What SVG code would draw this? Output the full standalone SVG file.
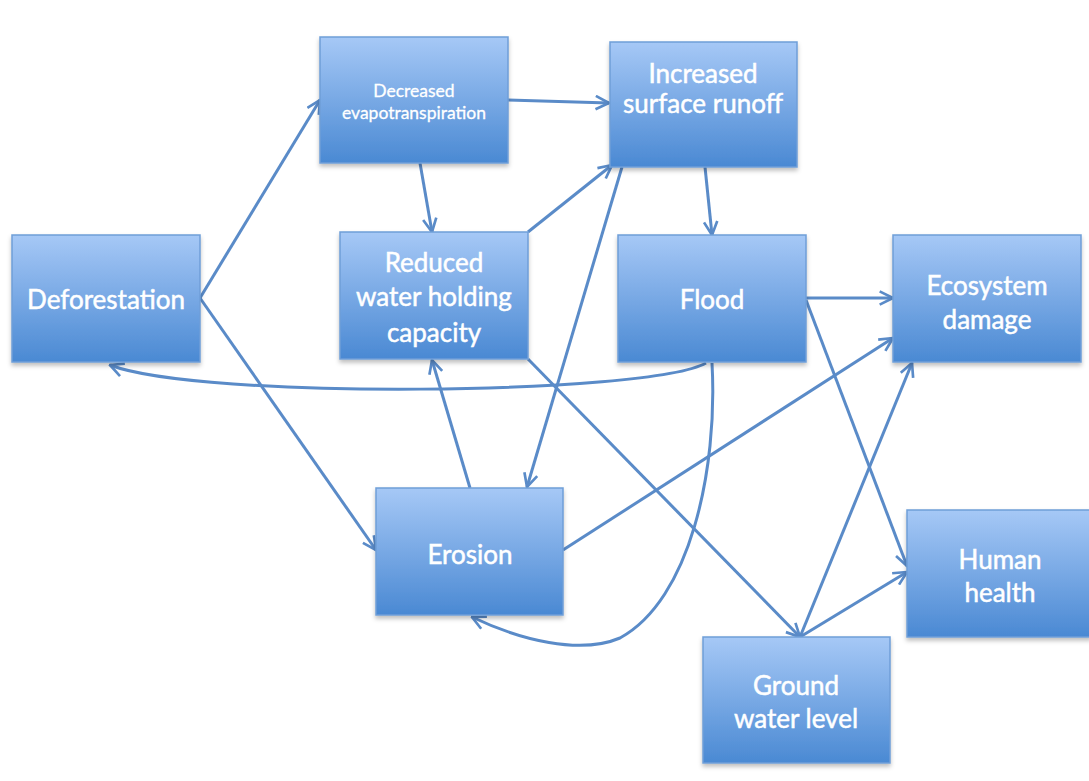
<svg xmlns="http://www.w3.org/2000/svg" width="1089" height="781" viewBox="0 0 1089 781">
<defs>
<linearGradient id="g" x1="0" y1="0" x2="0" y2="1">
<stop offset="0" stop-color="#a6c8f6"/>
<stop offset="1" stop-color="#4a89d3"/>
</linearGradient>
<filter id="sh" x="-10%" y="-10%" width="120%" height="130%">
<feDropShadow dx="0" dy="3" stdDeviation="2" flood-color="#000" flood-opacity="0.25"/>
</filter>
<marker id="ah" viewBox="0 0 12 12" refX="11" refY="6" markerWidth="16" markerHeight="16" markerUnits="userSpaceOnUse" orient="auto">
<path d="M1,1 L11,6 L1,11" fill="none" stroke="#5a8bc8" stroke-width="2"/>
</marker>
</defs>
<style>
.box{fill:url(#g);stroke:#6f9ed8;stroke-width:1.5;filter:url(#sh)}
.t{font-family:Lato,"Open Sans","Liberation Sans",sans-serif;fill:#fff;stroke:#fff;stroke-width:0.5;text-anchor:middle;font-size:26px}
.s{font-size:17.5px;stroke-width:0.3}
.c{fill:none;stroke:#5a8bc8;stroke-width:3;marker-end:url(#ah)}
</style>
<rect width="1089" height="781" fill="#fff"/>
<g id="connectors">
<path class="c" d="M200,298 L320,100"/>
<path class="c" d="M200,298 L376,550"/>
<path class="c" d="M508,100 L609,103"/>
<path class="c" d="M420,163 L432,232"/>
<path class="c" d="M528,232 L612,165"/>
<path class="c" d="M622,167 L527,487"/>
<path class="c" d="M705,167 L712,235"/>
<path class="c" d="M470,488 L432,360"/>
<path class="c" d="M706,363 C650,395 200,400 110,365"/>
<path class="c" d="M712,363 C718,470 690,600 620,638 C580,655 520,640 472,617"/>
<path class="c" d="M806,298 L893,298"/>
<path class="c" d="M806,300 L907,566"/>
<path class="c" d="M563,550 L893,338"/>
<path class="c" d="M528,359 L800,637"/>
<path class="c" d="M800,637 L912,363"/>
<path class="c" d="M800,637 L907,572"/>
</g>
<g id="deforestation">
<rect class="box" x="12" y="235" width="188" height="127"/>
<text class="t" x="106" y="309">Deforestation</text>
</g>
<g id="decreased-evapotranspiration">
<rect class="box" x="320" y="37" width="188" height="126"/>
<text class="t s" x="414" y="97">Decreased</text>
<text class="t s" x="414" y="119">evapotranspiration</text>
</g>
<g id="increased-surface-runoff">
<rect class="box" x="610" y="42" width="187" height="125"/>
<text class="t" x="703" y="83">Increased</text>
<text class="t" x="703" y="113">surface runoff</text>
</g>
<g id="reduced-water-holding-capacity">
<rect class="box" x="340" y="232" width="188" height="127"/>
<text class="t" x="434" y="272">Reduced</text>
<text class="t" x="434" y="306">water holding</text>
<text class="t" x="434" y="342">capacity</text>
</g>
<g id="flood">
<rect class="box" x="618" y="235" width="188" height="127"/>
<text class="t" x="712" y="309">Flood</text>
</g>
<g id="ecosystem-damage">
<rect class="box" x="893" y="235" width="188" height="127"/>
<text class="t" x="987" y="295">Ecosystem</text>
<text class="t" x="987" y="329">damage</text>
</g>
<g id="erosion">
<rect class="box" x="376" y="488" width="187" height="127"/>
<text class="t" x="470" y="564">Erosion</text>
</g>
<g id="human-health">
<rect class="box" x="907" y="510" width="184" height="127"/>
<text class="t" x="1000" y="569">Human</text>
<text class="t" x="1000" y="602">health</text>
</g>
<g id="ground-water-level">
<rect class="box" x="703" y="637" width="187" height="126"/>
<text class="t" x="796" y="695">Ground</text>
<text class="t" x="796" y="728">water level</text>
</g>
</svg>
